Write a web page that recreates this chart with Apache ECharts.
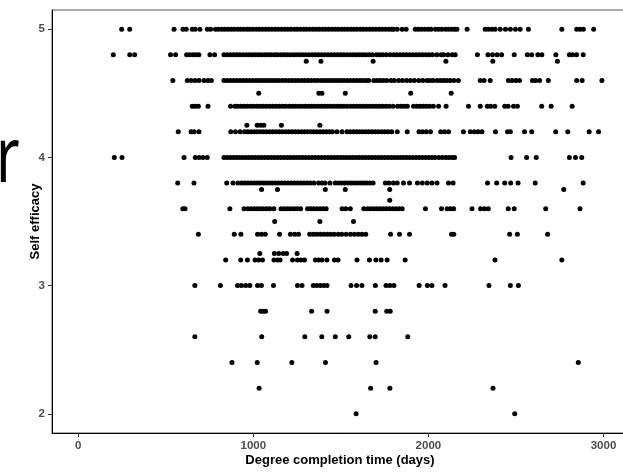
<!DOCTYPE html>
<html>
<head>
<meta charset="utf-8">
<script src="https://cdn.jsdelivr.net/npm/echarts@6/dist/echarts.min.js"></script>
<style>html,body{margin:0;padding:0;background:#fff;}#c{width:623px;height:472px;}</style>
</head>
<body>
<div id="c"></div>
<script>
const xTicks = [0, 1000, 2000, 3000];
const yTicks = [2, 3, 4, 5];
const xTitle = 'Degree completion time (days)';
const yTitle = 'Self efficacy';

const days_500 = [248, 294, 547, 598, 617, 651, 668, 695, 737, 756,
  784, 801, 820, 836, 855, 873, 890, 909, 926, 944, 963, 980, 998, 1017, 1034, 1052, 1071, 1088, 1106, 1125, 1142, 1160, 1179, 1196, 1214, 1233, 1250, 1268, 1287, 1304, 1322, 1341, 1358, 1376, 1395, 1412, 1430, 1449, 1466, 1484, 1503, 1520, 1538, 1557, 1574, 1592, 1611, 1628, 1646, 1665, 1682, 1700, 1719, 1736, 1754, 1773, 1790, 1801,
  1822, 1850, 1873,
  1925, 1942, 1960, 1979, 1998, 2015, 2040, 2058, 2076, 2097, 2115, 2133, 2150, 2163,
  2221, 2324, 2342, 2362, 2381, 2410, 2440, 2468, 2497, 2524, 2571, 2762, 2847, 2866, 2885, 2944];
const days_480 = [200, 294, 322, 527, 556, 619, 637, 655, 672, 689, 752, 779, 832, 850,
  868, 886, 905, 922, 940, 959, 976, 994, 1013, 1030, 1048, 1067, 1084, 1102, 1121, 1138, 1156, 1175, 1192, 1210, 1229, 1246, 1264, 1283, 1300, 1318, 1337, 1354, 1372, 1391, 1408, 1426, 1445, 1462, 1480, 1499, 1516, 1534, 1553, 1570, 1588, 1607, 1624, 1642, 1661, 1680,
  1703, 1721, 1740, 1760, 1782, 1803,
  1820, 1838, 1856, 1875, 1893, 1912, 1930, 1949, 1967, 1986, 2004, 2023, 2048, 2073, 2088, 2112, 2136, 2153,
  2280, 2340, 2366, 2392, 2418, 2490, 2565, 2590, 2625, 2648, 2728, 2805, 2823, 2846, 2884];
const days_475 = [1302, 1386, 1684, 2100, 2368, 2737];
const days_460 = [540, 623, 645, 668, 690, 718, 740, 760,
  832, 850, 869, 887, 906, 924, 943, 961, 980, 998, 1017, 1035, 1054, 1072, 1091, 1109, 1128, 1146, 1165, 1183, 1202, 1220, 1239, 1257, 1276, 1294, 1313, 1331, 1350, 1368, 1387, 1405, 1424, 1442, 1461, 1479, 1498, 1516, 1535, 1553, 1572, 1590, 1609, 1627, 1646, 1659,
  1688, 1706, 1725, 1743, 1762, 1786, 1805, 1830, 1852, 1876, 1898, 1920, 1945, 1968, 1992, 2010, 2028,
  2051, 2069, 2088, 2106, 2124, 2145, 2171,
  2296, 2318, 2353, 2457, 2478, 2500, 2520, 2594, 2612, 2635, 2685, 2847, 2878, 2991];
const days_450 = [1031, 1374, 1392, 1525, 1899, 2130];
const days_440 = [651, 668, 686, 741, 870,
  895, 912, 930, 948, 966, 985, 1003, 1021, 1040, 1058, 1076, 1094, 1113, 1131, 1150, 1168, 1186, 1205, 1223, 1241, 1260, 1278, 1296, 1315, 1333, 1351, 1370, 1388, 1406, 1425, 1443, 1461, 1480, 1498, 1516, 1535,
  1555, 1573, 1592, 1610, 1628, 1647, 1665, 1684, 1702, 1721, 1739, 1757, 1776, 1798,
  1824, 1843, 1862, 1880, 1915, 1935, 1953, 1972, 1990, 2008, 2028,
  2058, 2101, 2229, 2296, 2336, 2355, 2379, 2436, 2455, 2486, 2508, 2647, 2701, 2821];
const days_425 = [963, 1022, 1042, 1060, 1160, 1380];
const days_420 = [571, 644, 662, 689, 871, 898, 925, 950,
  968, 986, 1004, 1022, 1040, 1058, 1076, 1094, 1112, 1130, 1148, 1166, 1184, 1202, 1220, 1238, 1256, 1274, 1292, 1310, 1328, 1346, 1364, 1382, 1400, 1418, 1434,
  1452, 1478, 1507,
  1535, 1553, 1571, 1589, 1607, 1625, 1643, 1661, 1679, 1697, 1715, 1733, 1751, 1769, 1790,
  1822, 1879, 1946, 1966, 1988, 2012, 2070, 2092, 2115, 2200, 2239, 2262, 2284, 2306, 2383, 2452, 2468, 2549, 2590, 2727, 2796, 2918, 2972];
const days_400 = [206, 250, 604, 668, 690, 712, 737,
  832, 850, 868, 886, 904, 922, 940, 958, 976, 994, 1012, 1030, 1048, 1066, 1084, 1102, 1120, 1138, 1156, 1174, 1192, 1210, 1228, 1246, 1264, 1282, 1300, 1318, 1336, 1354, 1372, 1390, 1408, 1426, 1444, 1462, 1480, 1498, 1516, 1534, 1552, 1570, 1588, 1606, 1624, 1642, 1660, 1678, 1696, 1714, 1732, 1750, 1768, 1786, 1804, 1822, 1840, 1858, 1876, 1894, 1912, 1930, 1948, 1966, 1984, 2002, 2020, 2038, 2060, 2080, 2100, 2118, 2136, 2150,
  2472, 2561, 2616, 2805, 2840, 2876];
const days_380 = [568, 661, 848,
  884, 912, 932, 950, 968, 986, 1004, 1022, 1040, 1058, 1072, 1090, 1108, 1126, 1144, 1162, 1180, 1198, 1216, 1234, 1252, 1270, 1288, 1306, 1324, 1346,
  1373, 1392, 1410, 1438,
  1468, 1486, 1504, 1522, 1540, 1558, 1576, 1594, 1612, 1630, 1648, 1666, 1684,
  1754, 1774, 1800, 1822, 1858, 1892, 1937, 1965, 1993, 2020, 2049, 2115, 2141,
  2338, 2390, 2436, 2470, 2512, 2610, 2884];
const days_375 = [1047, 1138, 1411, 1525, 1779, 2773];
const days_367 = [1779];
const days_360 = [597, 610, 866,
  947, 968, 986, 1004, 1022, 1040, 1058, 1076, 1094, 1117,
  1158, 1178, 1196, 1214, 1232, 1250, 1270,
  1310, 1328, 1346, 1364, 1382, 1400, 1416,
  1507, 1528, 1554,
  1631, 1652, 1670, 1688, 1706, 1724, 1742, 1760, 1778, 1796, 1814, 1832, 1850,
  1983, 2075, 2107, 2125, 2144, 2249, 2298, 2320, 2342, 2456, 2490, 2670, 2866];
const days_350 = [1122, 1380, 1572];
const days_340 = [686, 891, 929, 1024, 1046, 1068, 1150, 1212, 1236, 1258,
  1322, 1342, 1362, 1382, 1402, 1422, 1442, 1462, 1485, 1505, 1530, 1555, 1578, 1600, 1620, 1642,
  1784, 1835, 1892, 2132, 2145, 2464, 2508, 2681];
const days_325 = [1037, 1120, 1145, 1170, 1190, 1250];
const days_320 = [842, 928, 966, 1010, 1030, 1052, 1118, 1138, 1153, 1224, 1252, 1272, 1292,
  1355, 1373, 1392, 1420, 1463, 1484, 1592, 1663, 1700, 1730, 1764, 1867, 2380, 2762];
const days_300 = [666, 812, 910, 932, 956, 980, 1024, 1046, 1115, 1252, 1278,
  1342, 1362, 1382, 1402, 1421, 1558, 1590, 1620, 1697, 1758, 1780, 1803,
  1947, 1994, 2020, 2095, 2346, 2468, 2514];
const days_280 = [1042, 1056, 1070, 1333, 1421, 1696, 1762, 1782];
const days_260 = [666, 1048, 1294, 1391, 1468, 1545, 1665, 1696, 1882];
const days_240 = [878, 1022, 1220, 1412, 1701, 2856];
const days_220 = [1033, 1670, 1780, 2369];
const days_200 = [1587, 2493];

const efficacyLevels = [5, 4.8, 4.75, 4.6, 4.5, 4.4, 4.25, 4.2, 4, 3.8, 3.75, 3.6667, 3.6, 3.5, 3.4, 3.25, 3.2, 3, 2.8, 2.6, 2.4, 2.2, 2];
const daysByLevel = [days_500, days_480, days_475, days_460, days_450, days_440, days_425, days_420, days_400, days_380, days_375, days_367, days_360, days_350, days_340, days_325, days_320, days_300, days_280, days_260, days_240, days_220, days_200];

const points = [];
efficacyLevels.forEach((lvl, i) => {
  daysByLevel[i].forEach(d => points.push([d, lvl]));
});

const chart = echarts.init(document.getElementById('c'), null, {renderer: 'canvas'});
chart.setOption({
  animation: false,
  backgroundColor: '#ffffff',
  grid: {left: 52, top: 10, width: 576, height: 423, outerBoundsMode: 'none', containLabel: false, show: true, borderColor: '#555555', borderWidth: 1, backgroundColor: 'transparent'},
  xAxis: {
    type: 'value', min: -150, max: 3140,
    name: xTitle, nameLocation: 'middle', nameGap: 21, nameMoveOverlap: false,
    nameTextStyle: {fontFamily: 'Liberation Sans', fontWeight: 'bold', fontSize: 13, color: '#000'},
    axisLine: {show: true, onZero: false, lineStyle: {color: '#000', width: 1}},
    axisTick: {show: true, length: 4, lineStyle: {color: '#333'}, customValues: xTicks},
    axisLabel: {customValues: xTicks, margin: 7, formatter: v => String(v), fontFamily: 'Liberation Sans', fontWeight: 'bold', fontSize: 11.5, color: '#4D4D4D'},
    splitLine: {show: false}
  },
  yAxis: {
    type: 'value', min: 1.85, max: 5.15,
    name: yTitle, nameLocation: 'middle', nameGap: 10.5, nameMoveOverlap: false,
    nameTextStyle: {fontFamily: 'Liberation Sans', fontWeight: 'bold', fontSize: 13, color: '#000'},
    axisLine: {show: true, onZero: false, lineStyle: {color: '#000', width: 1}},
    axisTick: {show: true, length: 4, lineStyle: {color: '#333'}, customValues: yTicks},
    axisLabel: {customValues: yTicks, margin: 7, formatter: v => String(v), fontFamily: 'Liberation Sans', fontWeight: 'bold', fontSize: 11.5, color: '#4D4D4D'},
    splitLine: {show: false}
  },
  graphic: [{
    type: 'text', x: -4, y: 160, scaleX: 0.75, scaleY: 1,
    style: {text: 'r', font: '450 76px "Noto Sans"', fill: '#000', verticalAlign: 'middle', align: 'left'}
  }],
  series: [{
    type: 'scatter', data: points, symbol: 'circle', symbolSize: 5,
    itemStyle: {color: '#000', opacity: 1}, silent: true
  }]
});
</script>
</body>
</html>
